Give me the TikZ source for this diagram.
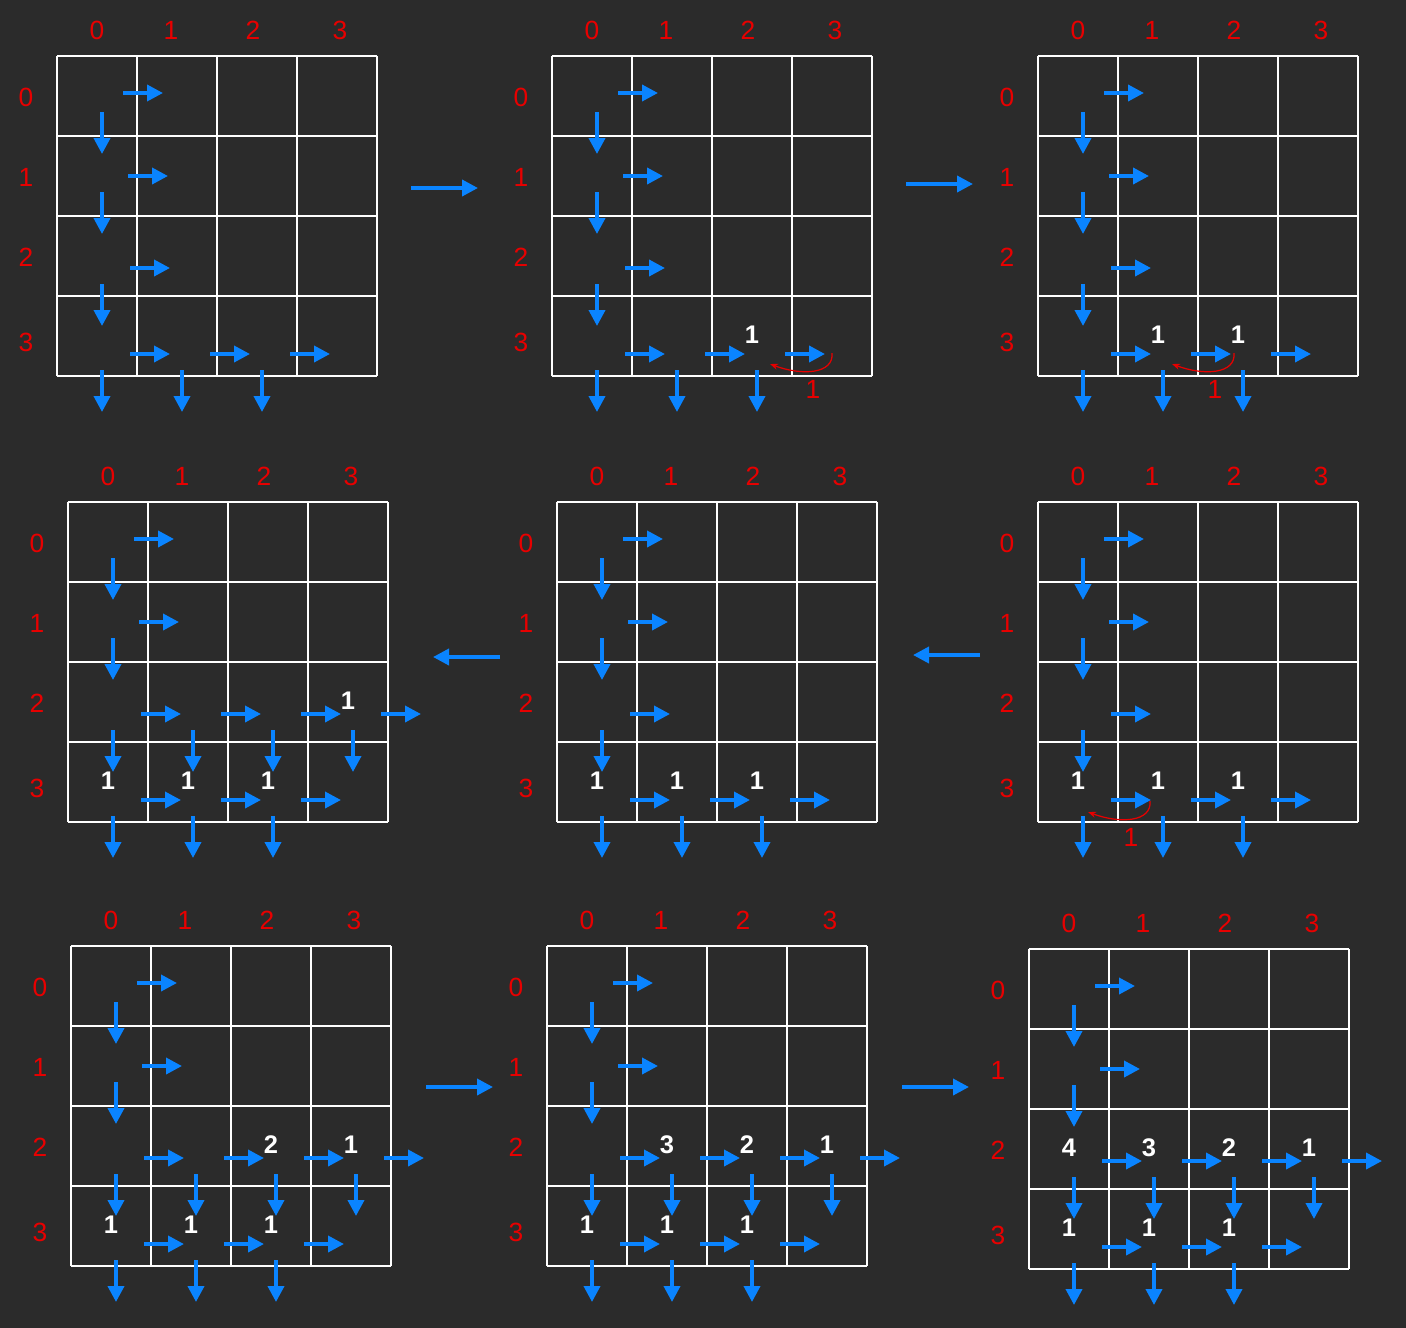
\documentclass[tikz,border=0pt]{standalone}
\usepackage{fontspec}
\setmainfont{Liberation Sans}
\usetikzlibrary{arrows.meta}

\definecolor{bgdark}{HTML}{2B2B2B}
\definecolor{flowblue}{HTML}{0A84FF}
\definecolor{labelred}{HTML}{E80000}

% grid of one panel with its row and column indices (#1 = panel name)
\newcommand{\dpgrid}[1]{%
  \foreach \i in {0,...,4} {
    \draw[gridline] (\i*80,0) -- (\i*80,320);
    \draw[gridline] (0,\i*80) -- (320,\i*80);
  }
  \foreach \c/\dx in {0/40,1/114,2/196,3/283}
    \node[idxlabel] (#1-col\c) at (\dx,-26) {\c};
  \foreach \r/\dy in {0/41,1/121,2/201,3/286}
    \node[idxlabel] (#1-row\r) at (-31,\dy) {\r};
}
% right moves r/c, down moves r/c
\newcommand{\rightflow}[1]{%
  \foreach \r/\c in {#1} {
    \pgfmathsetmacro\yy{{37,40,52,58}[\r]}
    \pgfmathsetmacro\xx{{66,71,73,73}[\r]}
    \draw[flow] (\c*80+\xx,\r*80+\yy) -- ++(40,0);
  }
}
\newcommand{\downflow}[1]{%
  \foreach \r/\c in {#1} {
    \pgfmathsetmacro\yy{{56,56,68,74}[\r]}
    \draw[flow] (\c*80+45,\r*80+\yy) -- ++(0,42);
  }
}
% counts r/c/value (#1 = panel name)
\newcommand{\cellcounts}[2]{%
  \foreach \r/\c/\v in {#2}
    \node[cellnum] (#1-n\r\c) at (\c*80+40,\r*80+39) {\v};
}
% red back-step arrow from (#2,#3) (#1 = panel name)
\newcommand{\backstep}[3]{%
  \coordinate (#1-bs) at (#2,#3);
  \coordinate (#1-be) at (#2-62,#3+11);
  \draw[backflow] (#1-bs) .. controls (#2+2,#3+21) and (#2-30,#3+23) .. (#1-be);
  \node[backlabel] (#1-bl) at (#2-19,#3+36) {1};
}

\begin{document}
\begin{tikzpicture}[x=0.02cm,y=-0.02cm]
  % Define styles
  \tikzset{
    gridline/.style={white, line width=0.6pt},
    idxlabel/.style={text=labelred, font=\fontsize{15}{17}\selectfont, inner sep=0pt},
    cellnum/.style={text=white, font=\fontsize{14.5}{16}\selectfont\bfseries, inner sep=0pt},
    flow/.style={flowblue, line width=2.1pt, -{Triangle[length=0.32cm,width=0.32cm]}},
    stepflow/.style={flowblue, line width=2.1pt, -{Triangle[length=0.32cm,width=0.32cm]}},
    backflow/.style={labelred, line width=0.7pt, -{Stealth[length=0.16cm,width=0.12cm]}},
    backlabel/.style={text=labelred, font=\fontsize{15}{17}\selectfont, inner sep=0pt}
  }

  % background and picture size
  \fill[bgdark] (0,0) rectangle (1406,1328);
  \useasboundingbox (0,0) rectangle (1406,1328);

  % first row of panels
  \begin{scope}[shift={(57,56)}]
    \dpgrid{p1}
    \rightflow{0/0,1/0,2/0,3/0,3/1,3/2}
    \downflow{0/0,1/0,2/0,3/0,3/1,3/2}
  \end{scope}
  \begin{scope}[shift={(552,56)}]
    \dpgrid{p2}
    \rightflow{0/0,1/0,2/0,3/0,3/1,3/2}
    \downflow{0/0,1/0,2/0,3/0,3/1,3/2}
    \cellcounts{p2}{3/2/1}
    \backstep{p2}{280}{297}
  \end{scope}
  \begin{scope}[shift={(1038,56)}]
    \dpgrid{p3}
    \rightflow{0/0,1/0,2/0,3/0,3/1,3/2}
    \downflow{0/0,1/0,2/0,3/0,3/1,3/2}
    \cellcounts{p3}{3/1/1,3/2/1}
    \backstep{p3}{196}{297}
  \end{scope}

  % second row of panels
  \begin{scope}[shift={(68,502)}]
    \dpgrid{p4}
    \rightflow{0/0,1/0,2/0,2/1,2/2,2/3,3/0,3/1,3/2}
    \downflow{0/0,1/0,2/0,2/1,2/2,2/3,3/0,3/1,3/2}
    \cellcounts{p4}{2/3/1,3/0/1,3/1/1,3/2/1}
  \end{scope}
  \begin{scope}[shift={(557,502)}]
    \dpgrid{p5}
    \rightflow{0/0,1/0,2/0,3/0,3/1,3/2}
    \downflow{0/0,1/0,2/0,3/0,3/1,3/2}
    \cellcounts{p5}{3/0/1,3/1/1,3/2/1}
  \end{scope}
  \begin{scope}[shift={(1038,502)}]
    \dpgrid{p6}
    \rightflow{0/0,1/0,2/0,3/0,3/1,3/2}
    \downflow{0/0,1/0,2/0,3/0,3/1,3/2}
    \cellcounts{p6}{3/0/1,3/1/1,3/2/1}
    \backstep{p6}{112}{299}
  \end{scope}

  % third row of panels
  \begin{scope}[shift={(71,946)}]
    \dpgrid{p7}
    \rightflow{0/0,1/0,2/0,2/1,2/2,2/3,3/0,3/1,3/2}
    \downflow{0/0,1/0,2/0,2/1,2/2,2/3,3/0,3/1,3/2}
    \cellcounts{p7}{2/2/2,2/3/1,3/0/1,3/1/1,3/2/1}
  \end{scope}
  \begin{scope}[shift={(547,946)}]
    \dpgrid{p8}
    \rightflow{0/0,1/0,2/0,2/1,2/2,2/3,3/0,3/1,3/2}
    \downflow{0/0,1/0,2/0,2/1,2/2,2/3,3/0,3/1,3/2}
    \cellcounts{p8}{2/1/3,2/2/2,2/3/1,3/0/1,3/1/1,3/2/1}
  \end{scope}
  \begin{scope}[shift={(1029,949)}]
    \dpgrid{p9}
    \rightflow{0/0,1/0,2/0,2/1,2/2,2/3,3/0,3/1,3/2}
    \downflow{0/0,1/0,2/0,2/1,2/2,2/3,3/0,3/1,3/2}
    \cellcounts{p9}{2/0/4,2/1/3,2/2/2,2/3/1,3/0/1,3/1/1,3/2/1}
  \end{scope}

  % arrows between panels
  \coordinate (t1a) at (411,188);  \coordinate (t1b) at (478,188);
  \coordinate (t2a) at (906,184);  \coordinate (t2b) at (973,184);
  \coordinate (t3a) at (980,655);  \coordinate (t3b) at (913,655);
  \coordinate (t4a) at (500,657);  \coordinate (t4b) at (433,657);
  \coordinate (t5a) at (426,1087); \coordinate (t5b) at (493,1087);
  \coordinate (t6a) at (902,1087); \coordinate (t6b) at (969,1087);
  \foreach \t in {1,...,6}
    \draw[stepflow] (t\t a) -- (t\t b);
\end{tikzpicture}
\end{document}
